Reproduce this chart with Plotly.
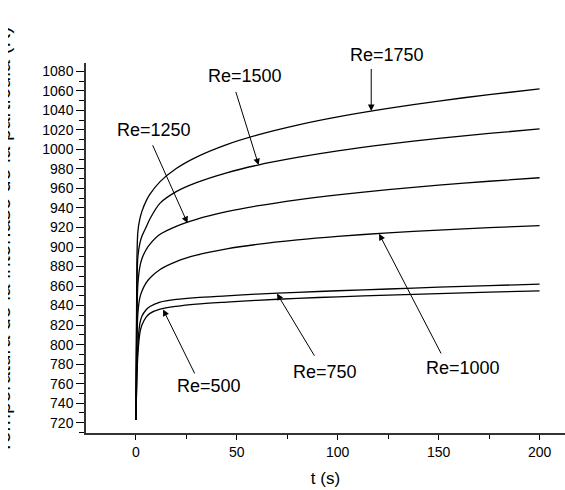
import plotly.graph_objects as go

# Time samples (s)
t = [0, 0.5, 1, 2, 3, 5, 7, 12, 20, 30, 45, 60, 80, 100, 125, 150, 175, 200]

# Interface temperature (K) for each Reynolds number
temp_re500 = [723, 765, 790, 812, 820, 828, 832, 836.3, 839.2, 841.5, 843.6, 845.4, 847.4, 849, 850.7, 852.3, 853.7, 855]
temp_re750 = [723, 770, 800, 822, 829, 835.5, 839, 843.5, 846.3, 848.2, 850, 851.8, 853.6, 855.2, 857, 858.8, 860.4, 862]
temp_re1000 = [723, 800, 832, 848.3, 854.8, 863, 868.3, 877, 885.1, 891.6, 898.1, 902.7, 907.3, 910.9, 914.5, 917.4, 919.8, 922]
temp_re1250 = [723, 825, 862, 880, 888, 897, 903, 913, 921.2, 928.4, 936.2, 942.1, 948.4, 953.5, 958.8, 963.4, 967.4, 971]
temp_re1500 = [723, 855, 890, 904, 911, 920, 929, 945, 956.8, 966, 976.1, 983.8, 991.8, 998.5, 1005.4, 1011.3, 1016.4, 1021]
temp_re1750 = [723, 885, 916, 929, 936.5, 946.8, 954.1, 967, 980.5, 992.2, 1005, 1014.7, 1025, 1033.4, 1042.1, 1049.6, 1056.2, 1062]

series = [temp_re500, temp_re750, temp_re1000, temp_re1250, temp_re1500, temp_re1750]
labels = ["Re=500", "Re=750", "Re=1000", "Re=1250", "Re=1500", "Re=1750"]

FONT = "Liberation Sans, Arial, sans-serif"

fig = go.Figure()
for name, temps in zip(labels, series):
    fig.add_trace(go.Scatter(
        x=t, y=temps, mode="lines", name=name,
        line=dict(color="black", width=1.3, shape="spline", smoothing=0.8),
        showlegend=False,
    ))

# label text position, arrow tail, arrow head (data units)
callouts = [
    ("Re=1750", (124.5, 1097), (116.6, 1084), (116.6, 1039.5)),
    ("Re=1500", (54.2, 1075.6), (49.3, 1060.5), (60.8, 984)),
    ("Re=1250", (8.8, 1020.2), (8.0, 1005.8), (25.6, 924.5)),
    ("Re=1000", (162.3, 775.8), (151.6, 789.4), (120.5, 913.5)),
    ("Re=750", (93.8, 772.3), (88.9, 787.1), (69.9, 852.3)),
    ("Re=500", (36.0, 757.6), (29.5, 768.9), (13.5, 836)),
]

Y_MIN, Y_MAX = 709.4, 1088.6
PLOT_LEFT, PLOT_WIDTH = 86, 479

annotations = []
for text, (tx, ty), (ax, ay), (hx, hy) in callouts:
    label = dict(
        x=tx, y=ty, xref="x", yref="y", text=text, showarrow=False,
        font=dict(family=FONT, size=18, color="black"),
        xanchor="center", yanchor="middle",
    )
    if ty > Y_MAX:
        # above the plotting area: place it in paper units
        label.update(yref="paper", y=(ty - Y_MIN) / (Y_MAX - Y_MIN))
    annotations.append(label)
    annotations.append(dict(
        x=hx, y=hy, ax=ax, ay=ay, xref="x", yref="y", axref="x", ayref="y",
        text="", showarrow=True, arrowhead=2, arrowsize=1.3, arrowwidth=1,
        arrowcolor="black", standoff=0, startstandoff=0,
    ))

# y-axis title, running off the left edge of the page
annotations.append(dict(
    x=-0.175, y=0.52, xref="paper", yref="paper",
    text="Temperatura de la interfase de la partícula (K)",
    showarrow=False, textangle=-90, xanchor="center", yanchor="middle",
    font=dict(family=FONT, size=21, color="black"),
))
# white strip along the page edge trimming the title
annotations.append(dict(
    x=(0 - PLOT_LEFT) / PLOT_WIDTH, y=0.52, xref="paper", yref="paper",
    text=" ", showarrow=False, xanchor="left", yanchor="middle",
    width=8, height=480, bgcolor="white", borderpad=0, borderwidth=0,
))

fig.update_layout(
    width=565, height=490,
    margin=dict(l=PLOT_LEFT, r=0, t=63, b=57),
    paper_bgcolor="white", plot_bgcolor="white",
    font=dict(family=FONT, size=14, color="black"),
    annotations=annotations,
    xaxis=dict(
        range=[-24.7, 212.6], tickmode="linear", tick0=0, dtick=50,
        ticks="outside", ticklen=5, tickwidth=1, tickcolor="black",
        minor=dict(dtick=25, tick0=0, ticks="outside", ticklen=4, tickcolor="black"),
        showline=True, linecolor="#333333", linewidth=1.5,
        showgrid=False, zeroline=False,
        title=dict(text="t (s)", font=dict(family=FONT, size=17), standoff=14),
        tickfont=dict(family=FONT, size=14),
    ),
    yaxis=dict(
        range=[Y_MIN, Y_MAX], tickmode="linear", tick0=720, dtick=20,
        ticks="outside", ticklen=8, tickwidth=1, tickcolor="black",
        minor=dict(dtick=10, tick0=720, ticks="outside", ticklen=5, tickcolor="black"),
        showline=True, linecolor="#333333", linewidth=1.5,
        showgrid=False, zeroline=False,
        tickfont=dict(family=FONT, size=14),
    ),
)

fig.write_html("out.html")
